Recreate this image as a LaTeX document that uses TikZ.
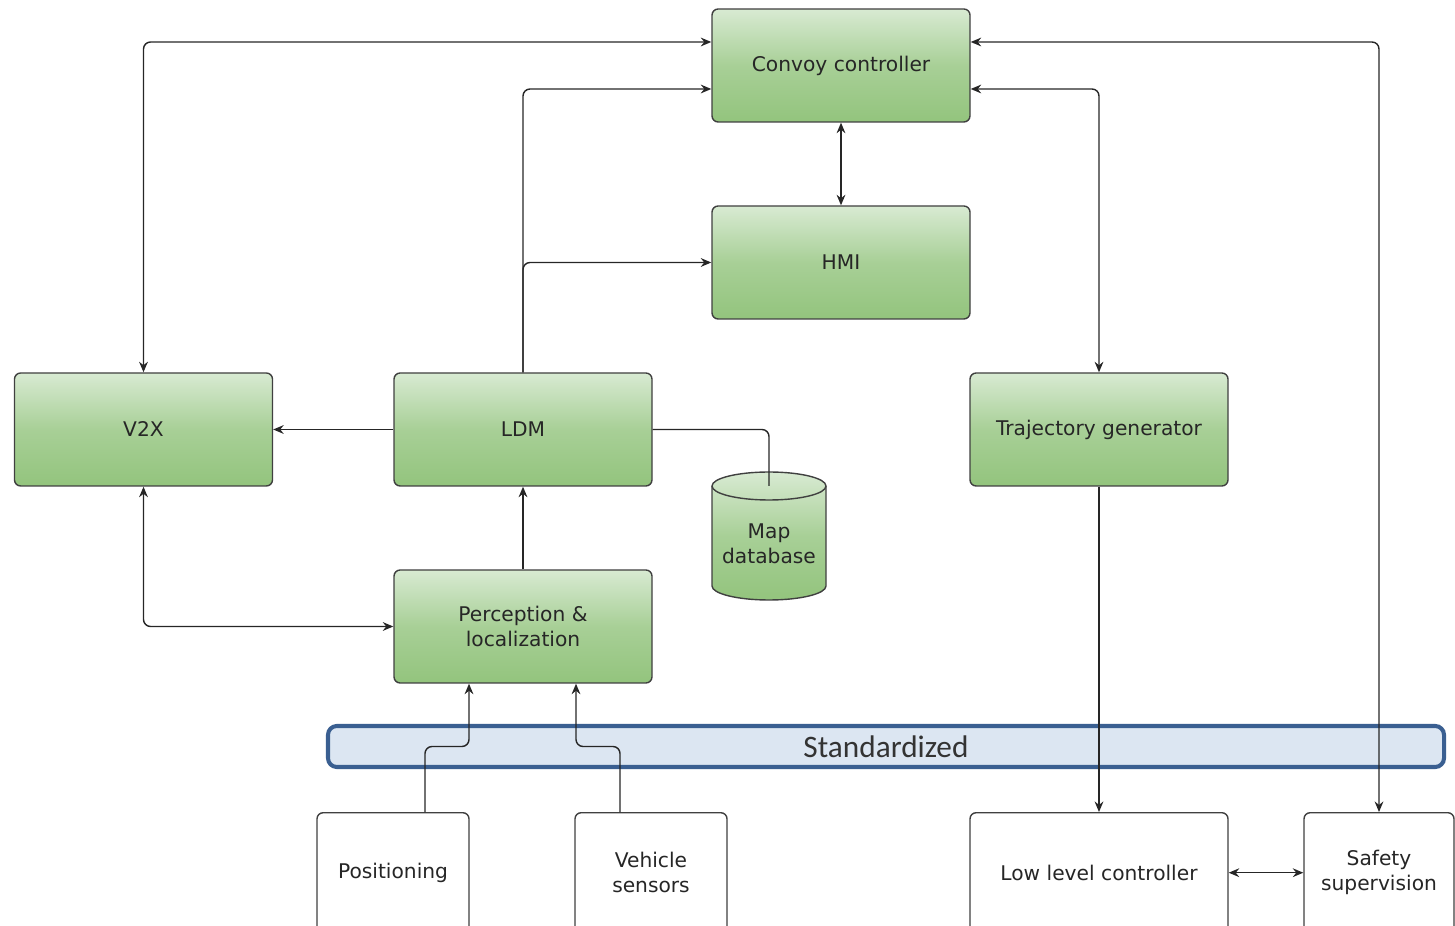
\documentclass[tikz,border=0pt]{standalone}
\usepackage{fontspec}
\setmainfont{DejaVu Sans}
\newfontfamily\barfont{Carlito}
\usepackage{tikz}
\usetikzlibrary{positioning}
\usetikzlibrary{calc}
\usetikzlibrary{arrows.meta}
\definecolor{GreenTop}{RGB}{216,234,210}
\definecolor{GreenBot}{RGB}{147,196,125}
\definecolor{BoxLine}{RGB}{64,64,64}
\definecolor{StdFill}{RGB}{220,230,242}
\definecolor{StdLine}{RGB}{58,95,145}

\begin{document}
\begin{tikzpicture}[>={Stealth[length=6pt,width=5pt,inset=2pt]},
    block/.style={draw=BoxLine, line width=0.8pt, rounded corners=3.5pt,
      top color=GreenTop, bottom color=GreenBot, middle color=GreenBot!70!GreenTop,
      minimum width=5.16cm, minimum height=2.26cm, align=center,
      font=\fontsize{11.5}{14.2}\selectfont, text=black!85},
    plainbox/.style={draw=BoxLine, line width=0.8pt, rounded corners=3.5pt, fill=white,
      minimum height=2.4cm, anchor=north, align=center,
      font=\fontsize{11.5}{14.2}\selectfont, text=black!85},
    link/.style={line width=0.8pt, rounded corners=4pt, draw=black!85}]
      \useasboundingbox (0,0) rectangle (29.1,18.5);

      % standardized band
      \node[draw=StdLine, line width=2.3pt, fill=StdFill, rounded corners=5pt,
        minimum width=22.32cm, minimum height=0.82cm, text=black!80,
        font=\barfont\fontsize{17.8}{20}\selectfont] (std) at (17.72,3.57) {Standardized};

      % green blocks
      \node[block] (conv) at (16.82,17.19) {Convoy controller};
      \node[block] (hmi) at (16.82,13.25) {HMI};
      \node[block] (v2x) at (2.87,9.91) {V2X};
      \node[block] (ldm) at (10.46,9.91) {LDM};
      \node[block] (traj) at (21.98,9.91) {Trajectory generator};
      \node[block] (perc) at (10.46,5.97) {Perception \&\\localization};

      % map database
      \path[draw=BoxLine, line width=0.8pt, top color=GreenTop, bottom color=GreenBot,
        middle color=GreenBot!70!GreenTop]
        (14.24,8.78) arc[start angle=180, end angle=0, x radius=1.14, y radius=0.28]
        -- (16.52,6.78) arc[start angle=0, end angle=-180, x radius=1.14, y radius=0.28] -- cycle;
      \draw[BoxLine, line width=0.8pt] (14.24,8.78)
        arc[start angle=180, end angle=360, x radius=1.14, y radius=0.28];
      \coordinate (dbtop) at (15.38,8.78);
      \node[align=center, font=\fontsize{11.5}{14.2}\selectfont, text=black!85] (db) at (15.38,7.62) {Map\\database};

      % vehicle side
      \node[plainbox, minimum width=3.04cm] (pos) at (7.86,2.26) {Positioning};
      \node[plainbox, minimum width=3.04cm] (vs) at (13.02,2.26) {Vehicle\\sensors};
      \node[plainbox, minimum width=5.16cm] (llc) at (21.98,2.26) {Low level controller};
      \node[plainbox, minimum width=3.0cm] (safe) at (27.58,2.26) {Safety\\supervision};

      % connectors
      \draw[link,<->] (v2x.north) |- ([yshift=0.47cm]conv.west);
      \draw[link,->] (ldm.north) |- ([yshift=-0.47cm]conv.west);
      \draw[link,->] (ldm.north) |- (hmi.west);
      \draw[link,<->] (conv.south) -- (hmi.north);
      \draw[link,<->] ([yshift=-0.47cm]conv.east) -| (traj.north);
      \draw[link,<->] (safe.north) |- ([yshift=0.47cm]conv.east);
      \draw[link,->] (ldm.west) -- (v2x.east);
      \draw[link] (ldm.east) -| (dbtop);
      \draw[link,->] (perc.north) -- (ldm.south);
      \draw[link,<->] (v2x.south) |- (perc.west);
      \draw[link,->] ([xshift=0.64cm]pos.north) |- ([xshift=-1.08cm]perc.south |- std.center)
        -- ([xshift=-1.08cm]perc.south);
      \draw[link,->] ([xshift=-0.62cm]vs.north) |- ([xshift=1.06cm]perc.south |- std.center)
        -- ([xshift=1.06cm]perc.south);
      \draw[link,->] (traj.south) -- (llc.north);
      \draw[link,<->] (llc.east) -- (safe.west);
\end{tikzpicture}
\end{document}
